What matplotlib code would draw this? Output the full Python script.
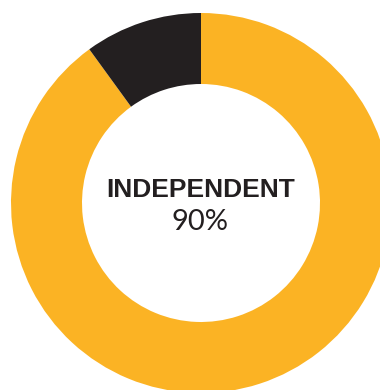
import matplotlib
matplotlib.use("Agg")
import matplotlib.pyplot as plt

# Share of respondents
labels = ["Independent", "Other"]
values = [90, 10]
colors = ["#FBB324", "#231F20"]
center_title = "INDEPENDENT"
center_value = "90%"

fig = plt.figure(figsize=(3.8, 3.9), dpi=100)
ax = fig.add_axes([0, 0, 1, 1])

cx, cy, r_out, ring = 201, 187, 190, 71
ax.pie(values, colors=colors, startangle=90, counterclock=False,
       center=(cx, cy), radius=r_out, frame=True,
       wedgeprops=dict(width=ring, linewidth=0))
ax.set_xlim(0, 380)
ax.set_ylim(0, 390)
ax.set_aspect("equal")
ax.axis("off")

ax.text(cx, cy + 6, center_title, ha="center", va="baseline",
        fontsize=19, fontweight="bold", family=["Liberation Sans", "DejaVu Sans"],
        color="#231F20")
ax.text(cx - 1, cy - 27, center_value, ha="center", va="baseline",
        fontsize=21, fontweight="normal", family=["Lato", "DejaVu Sans"],
        color="#231F20")

fig.savefig("out.png", dpi=100)
